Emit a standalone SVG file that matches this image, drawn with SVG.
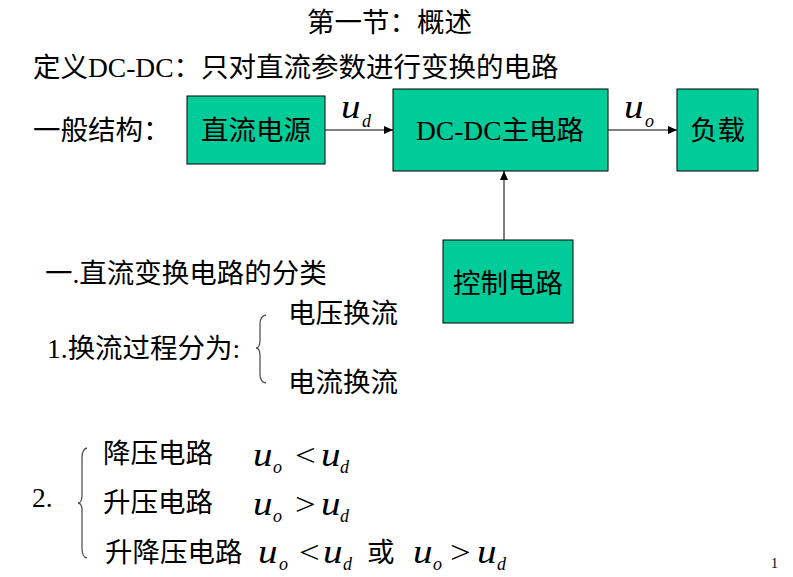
<svg xmlns="http://www.w3.org/2000/svg" width="793" height="577" viewBox="0 0 793 577">
<style>
text{font-family:"Liberation Serif","Noto Sans CJK SC",serif;fill:#000;}
.t{font-size:27.5px;}
.bx{fill:#00CC99;stroke:#000;stroke-width:1;}
.m{font-family:"Liberation Serif",serif;font-style:italic;font-size:34px;}
.s{font-family:"Liberation Serif",serif;font-style:italic;font-size:18px;}
.op{font-family:"Liberation Serif",serif;font-size:32px;}
.ln{stroke:#000;stroke-width:1;fill:none;}
.br{stroke:#555;stroke-width:1.3;fill:none;}
</style>
<defs>
<marker id="ah" markerWidth="9" markerHeight="8" refX="9" refY="4" orient="auto" markerUnits="userSpaceOnUse">
<path d="M0,0 L9,4 L0,8 Z" fill="#000"/>
</marker>
</defs>

<text class="t" x="307" y="32">第一节：概述</text>
<text class="t" x="33" y="77">定义DC-DC：只对直流参数进行变换的电路</text>
<text class="t" x="33" y="140">一般结构：</text>

<g id="connectors">
<line class="ln" x1="325" y1="130" x2="393" y2="130" marker-end="url(#ah)"/>
<line class="ln" x1="608" y1="130" x2="677" y2="130" marker-end="url(#ah)"/>
<line class="ln" x1="504" y1="240" x2="504" y2="171" marker-end="url(#ah)"/>
<text class="m" transform="translate(341,118) scale(1.15,1)">u</text><text class="s" x="362" y="127">d</text>
<text class="m" transform="translate(624,118) scale(1.15,1)">u</text><text class="s" x="645" y="127">o</text>
</g>

<g id="dc-source">
<rect class="bx" x="187" y="96" width="138" height="68"/>
<text class="t" x="256" y="140" text-anchor="middle">直流电源</text>
</g>
<g id="dc-main">
<rect class="bx" x="393" y="89" width="215" height="82"/>
<text class="t" x="500" y="140" text-anchor="middle">DC-DC主电路</text>
</g>
<g id="load">
<rect class="bx" x="677" y="89" width="81" height="82"/>
<text class="t" x="717.5" y="140" text-anchor="middle">负载</text>
</g>
<g id="control">
<rect class="bx" x="443" y="240" width="130" height="83"/>
<text class="t" x="508" y="293" text-anchor="middle">控制电路</text>
</g>

<text class="t" x="45" y="283">一.直流变换电路的分类</text>
<text class="t" x="47" y="358">1.换流过程分为:</text>
<path class="br" d="M266,315 Q260,316 260,324 L260,340 Q260,348 256,348 Q260,348 260,356 L260,374 Q260,382 266,383"/>
<text class="t" x="288" y="323">电压换流</text>
<text class="t" x="288" y="392">电流换流</text>

<text class="t" x="32" y="507">2.</text>
<path class="br" d="M87,448 Q82,449 82,458 L82,495 Q82,503 78,503 Q82,503 82,511 L82,548 Q82,557 87,558"/>
<text class="t" x="103" y="463">降压电路</text>
<text class="m" transform="translate(253,466) scale(1.15,1)">u</text><text class="s" x="273" y="473">o</text>
<text class="op" transform="translate(295,466) scale(1.15,1)">&lt;</text>
<text class="m" transform="translate(321,466) scale(1.15,1)">u</text><text class="s" x="340" y="473">d</text>

<text class="t" x="103" y="512">升压电路</text>
<text class="m" transform="translate(253,515) scale(1.15,1)">u</text><text class="s" x="273" y="522">o</text>
<text class="op" transform="translate(295,515) scale(1.15,1)">&gt;</text>
<text class="m" transform="translate(321,515) scale(1.15,1)">u</text><text class="s" x="340" y="522">d</text>

<text class="t" x="105" y="562">升降压电路</text>
<text class="m" transform="translate(258,563) scale(1.15,1)">u</text><text class="s" x="279" y="570">o</text>
<text class="op" transform="translate(299,563) scale(1.15,1)">&lt;</text>
<text class="m" transform="translate(323,563) scale(1.15,1)">u</text><text class="s" x="343" y="570">d</text>
<text class="t" x="367" y="562">或</text>
<text class="m" transform="translate(413,563) scale(1.15,1)">u</text><text class="s" x="433" y="570">o</text>
<text class="op" transform="translate(450,563) scale(1.15,1)">&gt;</text>
<text class="m" transform="translate(477,563) scale(1.15,1)">u</text><text class="s" x="497" y="570">d</text>

<text x="771" y="568" style="font-size:14px">1</text>
</svg>
